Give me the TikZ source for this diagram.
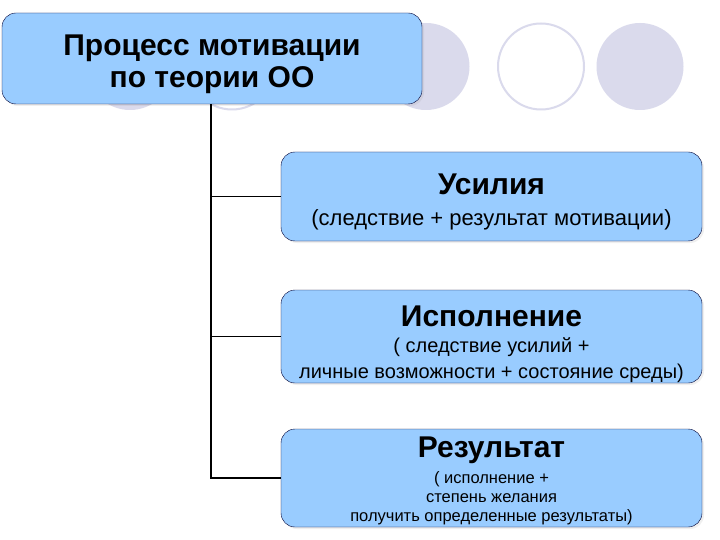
\documentclass[tikz,border=0pt]{standalone}
\usepackage{fontspec}
\setmainfont{Liberation Sans}
\usetikzlibrary{shadows}

\definecolor{boxblue}{HTML}{99CCFF}
\definecolor{ringlav}{HTML}{DADAEC}
\newcommand\headfont{\fontsize{30}{34}\selectfont\bfseries}
\newcommand\notefont{\fontsize{20}{24}\selectfont}
\newcommand\widenote{\fontsize{22}{26}\selectfont}
\newcommand\tinynote{\fontsize{16.5}{19}\selectfont}

\begin{document}
\begin{tikzpicture}[x=1pt,y=-1pt,
    box/.style={draw=black!80!blue,fill=boxblue,rounded corners=14pt,align=center,inner sep=0pt,
      drop shadow={opacity=0.12,shadow xshift=2pt,shadow yshift=-2pt}},
    ring/.style={draw=ringlav,line width=2pt,fill=white},
    link/.style={line width=1.6pt}]
  \useasboundingbox[fill=white] (0,0) rectangle (720,540);
  \fill[ringlav] (130,66.5) circle (43.5pt);
  \draw[ring] (232,66.5) circle (43pt);
  \fill[ringlav] (426,66.5) circle (43.5pt);
  \draw[ring] (541,66.5) circle (43pt);
  \fill[ringlav] (640,66.5) circle (43.5pt);

  \node[box,minimum width=420pt,minimum height=91pt] (title) at (212,58.5)
    {\headfont\rule{0pt}{31.5pt}Процесс мотивации\\[4pt]\headfont по теории ОО};
  \node[box,minimum width=421pt,minimum height=89pt] (eff) at (491.5,196.5)
    {\headfont\rule{0pt}{31.5pt}Усилия\\[13pt]\widenote (следствие + результат мотивации)};
  \node[box,minimum width=421pt,minimum height=93pt] (perf) at (491.5,336.5)
    {\headfont\rule{0pt}{36pt}Исполнение\\[10pt]\notefont ( следствие усилий +\\[6pt]\notefont личные возможности + состояние среды)};
  \node[box,minimum width=421pt,minimum height=98pt] (res) at (491.5,478)
    {\headfont\rule{0pt}{26.5pt}Результат\\[7pt]\tinynote ( исполнение +\\[6pt]\tinynote степень желания\\[6pt]\tinynote получить определенные результаты)};

  \coordinate (spine) at (211,0);
  \draw[link] (title.south -| spine) |- (res.west);
  \draw[link] (spine |- eff.west) -- (eff.west);
  \draw[link] (spine |- perf.west) -- (perf.west);
\end{tikzpicture}
\end{document}
